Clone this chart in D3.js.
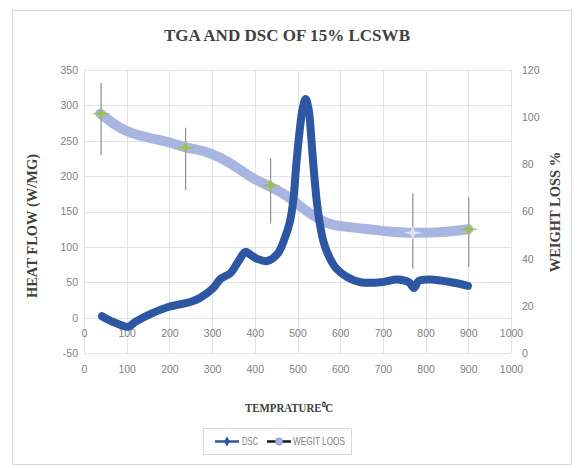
<!DOCTYPE html>
<html>
<head>
<meta charset="utf-8">
<script src="https://cdn.jsdelivr.net/npm/d3@7"></script>
<style>
  body { margin: 0; background: #fff; }
  .tick-lbl { font-family: "Liberation Sans Narrow", "Arial Narrow", "Liberation Sans", sans-serif; font-size: 10.5px; fill: #808080; }
  .ttl { font-family: "Liberation Serif", "Times New Roman", serif; font-weight: bold; fill: #404040; }
</style>
</head>
<body>
<div id="chart"></div>
<script>
// DSC curve (heat flow, left axis)
var dscTemp = [42, 60, 80, 103, 120, 155, 197, 218, 249, 272, 303, 320, 343, 362, 378, 392, 406, 429, 453, 470, 482, 490, 497, 505, 512, 519, 526, 531, 537, 545, 553, 562, 575, 590, 617, 648, 695, 734, 761, 773, 784, 812, 851, 899]
var dscFlow = [2, -4, -9, -13, -6, 5, 15, 18, 22, 28, 42, 55, 63, 80, 93, 88, 83, 80, 90, 112, 135, 165, 215, 264, 295, 309, 295, 264, 217, 165, 130, 105, 85, 70, 57, 50, 50, 54, 50, 42, 52, 54, 51, 45]

// TGA curve (weight loss, right axis)
var wlTemp = [38, 70, 101, 155, 202, 237, 279, 319, 359, 394, 437, 476, 507, 547, 577, 655, 734, 770, 836, 900]
var wlVal = [101.5, 97, 93.6, 91, 89.4, 87, 86, 83, 78.7, 74, 70.6, 66.8, 62, 57, 54, 52.8, 51, 51, 51, 52.5]

// star markers with error bars on the TGA series
var mkTemp = [40, 238, 437, 770, 901]
var mkVal = [101.5, 87, 71, 51, 52.5]
var errPlus = [13, 8.5, 11.5, 16.7, 13.5]
var errMinus = [17.7, 18, 16, 15.3, 16]

var leftTicks = [-50, 0, 50, 100, 150, 200, 250, 300, 350]
var rightTicks = [0, 20, 40, 60, 80, 100, 120]
var xTicks = [0, 100, 200, 300, 400, 500, 600, 700, 800, 900, 1000]

var W = 581, H = 468
var plot = { left: 84, right: 511, top: 70, bottom: 353 }

var svg = d3.select("#chart").append("svg")
    .attr("width", W)
    .attr("height", H)

svg.append("rect")
    .attr("x", 12.5).attr("y", 10.5)
    .attr("width", 559).attr("height", 454)
    .attr("fill", "#fff")
    .attr("stroke", "#d9d9d9")

var x = d3.scaleLinear().domain([0, 1000]).range([plot.left, plot.right])
var yL = d3.scaleLinear().domain([-50, 350]).range([plot.bottom, plot.top])
var yR = d3.scaleLinear().domain([0, 120]).range([plot.bottom, plot.top])

// gridlines
svg.append("g")
    .selectAll("line")
    .data(leftTicks)
    .enter().append("line")
    .attr("x1", plot.left).attr("x2", plot.right)
    .attr("y1", d => Math.round(yL(d)) + 0.5)
    .attr("y2", d => Math.round(yL(d)) + 0.5)
    .attr("stroke", "#e3e3e3")

svg.append("g")
    .selectAll("line")
    .data(xTicks)
    .enter().append("line")
    .attr("y1", plot.top).attr("y2", plot.bottom)
    .attr("x1", d => Math.round(x(d)) + 0.5)
    .attr("x2", d => Math.round(x(d)) + 0.5)
    .attr("stroke", "#e3e3e3")

// axes (labels only, Excel style)
function styleAxis(g) {
    g.select(".domain").remove()
    g.selectAll(".tick line").remove()
    g.selectAll(".tick text").attr("class", "tick-lbl").attr("fill", null)
}
var plain = d => String(d)

svg.append("g")
    .attr("transform", "translate(" + (plot.left - 6) + ",0)")
    .call(d3.axisLeft(yL).tickValues(leftTicks).tickFormat(plain).tickSize(0).tickPadding(0))
    .call(styleAxis)

svg.append("g")
    .attr("transform", "translate(" + (plot.right + 11) + ",0)")
    .call(d3.axisRight(yR).tickValues(rightTicks).tickFormat(plain).tickSize(0).tickPadding(0))
    .call(styleAxis)

// primary horizontal axis labels (just below the zero line)
svg.append("g")
    .attr("transform", "translate(0," + (yL(0) + 12) + ")")
    .call(d3.axisBottom(x).tickValues(xTicks).tickFormat(plain).tickSize(0).tickPadding(0))
    .call(styleAxis)

// secondary horizontal axis labels
svg.append("g")
    .attr("transform", "translate(0," + (plot.bottom + 13) + ")")
    .call(d3.axisBottom(x).tickValues(xTicks).tickFormat(plain).tickSize(0).tickPadding(0))
    .call(styleAxis)

// lines
var wlLine = d3.line()
    .x(function (d, i) { return x(wlTemp[i]) })
    .y(function (d) { return yR(d) })
    .curve(d3.curveBasis)

svg.append("path")
    .datum(wlVal)
    .attr("d", wlLine)
    .attr("fill", "none")
    .attr("stroke", "#a7b5e0")
    .attr("stroke-width", 10)
    .attr("stroke-linecap", "round")

var dscLine = d3.line()
    .x(function (d, i) { return x(dscTemp[i]) })
    .y(function (d) { return yL(d) })
    .curve(d3.curveCatmullRom)

svg.append("path")
    .datum(dscFlow)
    .attr("d", dscLine)
    .attr("fill", "none")
    .attr("stroke", "#2d57a3")
    .attr("stroke-width", 8)
    .attr("stroke-linecap", "round")
    .attr("stroke-linejoin", "round")

// error bars
svg.append("g")
    .selectAll("line")
    .data(mkVal)
    .enter().append("line")
    .attr("x1", (d, i) => x(mkTemp[i])).attr("x2", (d, i) => x(mkTemp[i]))
    .attr("y1", (d, i) => yR(d + errPlus[i]))
    .attr("y2", (d, i) => yR(d - errMinus[i]))
    .attr("stroke", "#8a8f9c")
    .attr("stroke-width", 1.2)

// four point star marker, a bit wider than tall
function star(rx, ry, k) {
    var pts = []
    for (var j = 0; j < 8; j++) {
        var a = j * Math.PI / 4
        var f = j % 2 == 0 ? 1 : k
        pts.push([rx * f * Math.cos(a), ry * f * Math.sin(a)])
    }
    return "M" + pts.map(p => p[0].toFixed(2) + "," + p[1].toFixed(2)).join("L") + "Z"
}

svg.append("g")
    .selectAll("path")
    .data(mkVal)
    .enter().append("path")
    .attr("transform", (d, i) => "translate(" + x(mkTemp[i]) + "," + yR(d) + ")")
    .attr("d", star(10, 7, 0.3))
    .attr("fill", (d, i) => i == 3 ? "#e6e9f2" : "#9cc04a")
    .attr("opacity", 0.9)

// titles
svg.append("text")
    .attr("class", "ttl")
    .attr("x", 287).attr("y", 41)
    .attr("text-anchor", "middle")
    .attr("font-size", 16.5)
    .attr("textLength", 246)
    .attr("lengthAdjust", "spacingAndGlyphs")
    .text("TGA AND DSC OF 15% LCSWB")

svg.append("text")
    .attr("class", "ttl")
    .attr("transform", "translate(37,226) rotate(-90)")
    .attr("text-anchor", "middle")
    .attr("font-size", 14.5)
    .text("HEAT FLOW (W/MG)")

svg.append("text")
    .attr("class", "ttl")
    .attr("transform", "translate(560,212) rotate(-90)")
    .attr("text-anchor", "middle")
    .attr("font-size", 14.5)
    .text("WEIGHT LOSS %")

svg.append("text")
    .attr("class", "ttl")
    .attr("x", 289).attr("y", 412)
    .attr("text-anchor", "middle")
    .attr("font-size", 12)
    .attr("textLength", 88)
    .attr("lengthAdjust", "spacingAndGlyphs")
    .text("TEMPRATURE⁰C")

// legend
var lg = svg.append("g").attr("transform", "translate(203,428)")
lg.append("rect")
    .attr("x", 0.5).attr("y", 0.5)
    .attr("width", 148).attr("height", 26)
    .attr("fill", "#fff")
    .attr("stroke", "#d9d9d9")

lg.append("line").attr("x1", 12).attr("x2", 36).attr("y1", 13.5).attr("y2", 13.5)
    .attr("stroke", "#2d57a3").attr("stroke-width", 2.5)
lg.append("path").attr("transform", "translate(24,13.5)")
    .attr("d", d3.symbol(d3.symbolDiamond, 30)()).attr("fill", "#2d57a3")
lg.append("text").attr("class", "tick-lbl").attr("x", 39).attr("y", 17)
    .attr("font-size", 9.5).attr("textLength", 16).attr("lengthAdjust", "spacingAndGlyphs")
    .text("DSC")

lg.append("line").attr("x1", 64).attr("x2", 88).attr("y1", 13.5).attr("y2", 13.5)
    .attr("stroke", "#1a1a1a").attr("stroke-width", 2.5)
lg.append("circle").attr("cx", 76).attr("cy", 13.5).attr("r", 3.5)
    .attr("fill", "#a7b5e0").attr("stroke", "#8090c0")
lg.append("text").attr("class", "tick-lbl").attr("x", 90).attr("y", 17)
    .attr("font-size", 9.5).attr("textLength", 52).attr("lengthAdjust", "spacingAndGlyphs")
    .text("WEGIT LOOS")
</script>
</body>
</html>
